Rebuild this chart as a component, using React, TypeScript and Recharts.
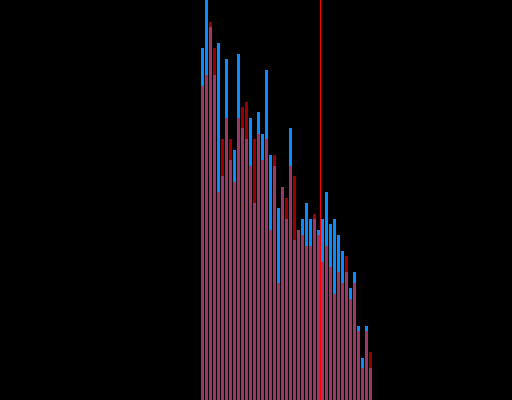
import { BarChart, Bar, XAxis, YAxis, ReferenceLine } from "recharts";

// histogram bins (43 of them), two overlapping series
const bins = [
  "1", "2", "3", "4", "5", "6", "7", "8", "9", "10", "11",
  "12", "13", "14", "15", "16", "17", "18", "19", "20", "21", "22",
  "23", "24", "25", "26", "27", "28", "29", "30", "31", "32", "33",
  "34", "35", "36", "37", "38", "39", "40", "41", "42", "43",
];
const blueCounts = [
  352, 400, 373, 325, 357, 224, 341, 240, 250, 346, 272,
  261, 282, 197, 288, 266, 330, 245, 234, 192, 213, 181,
  272, 160, 170, 181, 197, 181, 181, 170, 181, 208, 176,
  181, 165, 149, 128, 112, 128, 74, 42, 74, 32,
];
const redCounts = [
  314, 325, 378, 352, 208, 261, 282, 261, 218, 282, 293,
  298, 234, 261, 266, 240, 261, 170, 245, 117, 213, 202,
  234, 224, 170, 165, 154, 154, 186, 165, 138, 154, 133,
  106, 128, 117, 144, 101, 117, 69, 32, 69, 48,
];
const cutoffBin = "30";

const data = bins.map((bin, i) => ({ bin, blue: blueCounts[i], red: redCounts[i] }));

export default function App() {
  return (
    <div style={{ position: "absolute", left: 0, top: 0, width: 512, height: 400, background: "#000" }}>
      <BarChart
        width={512}
        height={400}
        data={data}
        margin={{ top: 0, right: 140, bottom: 0, left: 200 }}
        barCategoryGap={0}
        barSize={3}
      >
        <XAxis xAxisId="blue" dataKey="bin" hide />
        <XAxis xAxisId="red" dataKey="bin" hide />
        <YAxis domain={[0, 400]} hide allowDataOverflow />
        <Bar xAxisId="blue" dataKey="blue" fill="#0a8cff" isAnimationActive={false} />
        <Bar xAxisId="red" dataKey="red" fill="#ff0000" fillOpacity={0.6} isAnimationActive={false} />
        <ReferenceLine
          xAxisId="blue"
          x={cutoffBin}
          position="end"
          stroke="#ff0000"
          strokeWidth={1}
          ifOverflow="visible"
          style={{ shapeRendering: "crispEdges" }}
        />
      </BarChart>
    </div>
  );
}
